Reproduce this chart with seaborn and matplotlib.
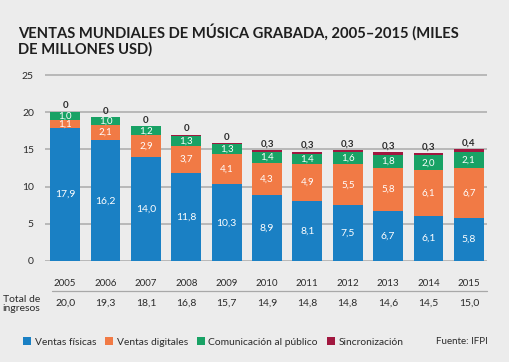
import numpy as np
import pandas as pd
import matplotlib
matplotlib.use("Agg")
import matplotlib.pyplot as plt
import matplotlib.transforms as mtransforms
from matplotlib.lines import Line2D
from matplotlib.patches import Patch
import seaborn as sns

# Datos (miles de millones USD)
years = ["2005", "2006", "2007", "2008", "2009", "2010",
         "2011", "2012", "2013", "2014", "2015"]
fisicas = [17.9, 16.2, 14.0, 11.8, 10.3, 8.9, 8.1, 7.5, 6.7, 6.1, 5.8]
digitales = [1.1, 2.1, 2.9, 3.7, 4.1, 4.3, 4.9, 5.5, 5.8, 6.1, 6.7]
comunicacion = [1.0, 1.0, 1.2, 1.3, 1.3, 1.4, 1.4, 1.6, 1.8, 2.0, 2.1]
sincronizacion = [0.0, 0.0, 0.0, 0.1, 0.1, 0.3, 0.3, 0.3, 0.3, 0.3, 0.4]
sinc_labels = ["0", "0", "0", "0", "0", "0,3", "0,3", "0,3", "0,3", "0,3", "0,4"]
totales = [20.0, 19.3, 18.1, 16.8, 15.7, 14.9, 14.8, 14.8, 14.6, 14.5, 15.0]

series = ["Ventas físicas", "Ventas digitales", "Comunicación al público", "Sincronización"]
colores = ["#1a80c4", "#f17a45", "#18a265", "#a1173f"]
BG = "#ececec"
DARK = "#2b2b2b"

def fmt(v):
    return f"{v:.1f}".replace(".", ",")

df = pd.DataFrame({"year": years, "fisicas": fisicas, "digitales": digitales,
                   "comunicacion": comunicacion, "sincronizacion": sincronizacion})
cols = ["fisicas", "digitales", "comunicacion", "sincronizacion"]
cum = df[cols].cumsum(axis=1)

sns.set_theme(style="white")
plt.rcParams["font.family"] = ["Lato", "DejaVu Sans"]

fig = plt.figure(figsize=(5.09, 3.62), dpi=100, facecolor=BG)
ax = fig.add_axes([45 / 509, 101 / 362, 442 / 509, 193.4 / 362])
ax.set_facecolor(BG)

# barras apiladas: de la acumulada mayor a la menor
for col, color in zip(reversed(cols), reversed(colores)):
    sns.barplot(x=df["year"], y=cum[col], color=color, width=0.74,
                saturation=1, ax=ax, zorder=3, linewidth=0)

ax.set_ylim(0, 26)
ax.set_xlim(-0.5, 10.45)
ax.set_yticks([0, 5, 10, 15, 20, 25])
ax.yaxis.grid(True, color="#b4b4b4", linewidth=1.3, zorder=0)
ax.set_axisbelow(True)
for s in ax.spines.values():
    s.set_visible(False)
ax.set_xlabel("")
ax.set_ylabel("")
ax.tick_params(axis="y", length=0, pad=8, labelsize=7.5, labelcolor=DARK)
ax.tick_params(axis="x", length=0, pad=13, labelsize=7, labelcolor=DARK)

# etiquetas dentro de las barras
for i in range(len(years)):
    base = 0
    for col in cols[:3]:
        v = df[col][i]
        ax.text(i, base + v / 2, fmt(v), ha="center", va="center",
                color="white", fontsize=7 if col != "fisicas" else 7.5, zorder=4)
        base += v
    ax.text(i, cum["sincronizacion"][i] + 0.25, sinc_labels[i], ha="center",
            va="bottom", color=DARK, fontsize=7, fontweight="bold", zorder=4)

# fila de totales
trans = mtransforms.blended_transform_factory(ax.transData, fig.transFigure)
fig.add_artist(Line2D([52 / 509, 487 / 509], [1 - 291 / 362] * 2,
                      color="#a8a8a8", linewidth=0.9))
for i, t in enumerate(totales):
    ax.text(i, 1 - 303 / 362, fmt(t), transform=trans, ha="center",
            va="center", fontsize=7.5, color=DARK)
fig.text(40 / 509, 1 - 304 / 362, "Total de\ningresos", ha="right",
         va="center", fontsize=7.5, color=DARK, linespacing=1.0)

# título
fig.text(18 / 509, 1 - 24 / 362,
         "VENTAS MUNDIALES DE MÚSICA GRABADA, 2005–2015 (MILES\nDE MILLONES USD)",
         ha="left", va="top", fontsize=10.6, fontweight="bold", color="#1e1e1e",
         linespacing=1.1)

# leyenda
handles = [Patch(facecolor=c, edgecolor="none") for c in colores]
fig.legend(handles, series, loc="center left", bbox_to_anchor=(14 / 509, 1 - 342 / 362),
           ncol=4, frameon=False, fontsize=7.4, handlelength=0.75, handleheight=0.75,
           handletextpad=0.35, columnspacing=0.9, labelcolor=DARK)
fig.text(488 / 509, 1 - 342 / 362, "Fuente: IFPI", ha="right", va="center",
         fontsize=7, color=DARK)

fig.savefig("out.png", dpi=100, facecolor=BG)
